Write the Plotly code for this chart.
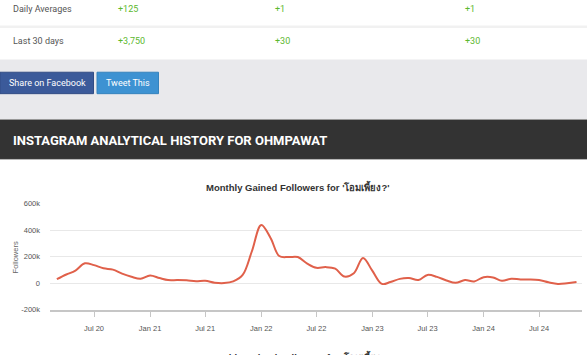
import plotly.graph_objects as go

W, H = 587, 355

# ---- data ----
months = [
    "2020-03-01", "2020-04-01", "2020-05-01", "2020-06-01", "2020-07-01", "2020-08-01",
    "2020-09-01", "2020-10-01", "2020-11-01", "2020-12-01", "2021-01-01", "2021-02-01",
    "2021-03-01", "2021-04-01", "2021-05-01", "2021-06-01", "2021-07-01", "2021-08-01",
    "2021-09-01", "2021-10-01", "2021-11-01", "2021-12-01", "2022-01-01", "2022-02-01",
    "2022-03-01", "2022-04-01", "2022-05-01", "2022-06-01", "2022-07-01", "2022-08-01",
    "2022-09-01", "2022-10-01", "2022-11-01", "2022-12-01", "2023-01-01", "2023-02-01",
    "2023-03-01", "2023-04-01", "2023-05-01", "2023-06-01", "2023-07-01", "2023-08-01",
    "2023-09-01", "2023-10-01", "2023-11-01", "2023-12-01", "2024-01-01", "2024-02-01",
    "2024-03-01", "2024-04-01", "2024-05-01", "2024-06-01", "2024-07-01", "2024-08-01",
    "2024-09-01", "2024-10-01", "2024-11-01",
]
gained = [
    30000, 65000, 95000, 150000, 136000, 112000,
    102000, 72000, 48000, 33000, 57000, 38000,
    23000, 23000, 21000, 15000, 18000, 3000,
    0, 13000, 62000, 239000, 440000, 340000,
    205000, 197000, 197000, 148000, 116000, 121000,
    109000, 50000, 75000, 190000, 92000, -6000,
    8000, 32000, 38000, 24000, 62000, 47000,
    20000, 2000, 23000, 13000, 45000, 43000,
    18000, 33000, 28000, 28000, 23000, 6000,
    -6000, -1000, 8000,
]
y_ticks = [-200000, 0, 200000, 400000, 600000]
y_tick_labels = ["-200k", "0", "200k", "400k", "600k"]

table_rows = ["Daily Averages", "Last 30 days"]
table_col1 = ["+125", "+3,750"]
table_col2 = ["+1", "+30"]
table_col3 = ["+1", "+30"]

chart_title = "Monthly Gained Followers for '\u0e42\u0e2d\u0e21\u0e40\u0e1e\u0e35\u0e49\u0e22\u0e07?'"
section_title = "INSTAGRAM ANALYTICAL HISTORY FOR OHMPAWAT"


def xp(x):
    return x / W


def yp(y):
    return 1 - y / H


fig = go.Figure()
fig.add_trace(go.Scatter(
    x=months, y=gained, mode="lines",
    line=dict(color="#e0604a", width=2, shape="spline", smoothing=1.0),
    hoverinfo="skip", showlegend=False,
))

shapes = []
annotations = []


def note(text, x, y, size, color, family="Roboto", xanchor="left", yanchor="middle", **kw):
    annotations.append(dict(text=text, x=xp(x), y=yp(y), xref="paper", yref="paper",
                            xanchor=xanchor, yanchor=yanchor, showarrow=False,
                            font=dict(family=family, size=size, color=color), **kw))


# table row separator
shapes.append(dict(type="rect", xref="paper", yref="paper", x0=0, x1=1, y0=yp(24.5), y1=yp(22),
                   fillcolor="#f1f1f1", line=dict(width=0), layer="below"))
# gray band
shapes.append(dict(type="rect", xref="paper", yref="paper", x0=0, x1=1, y0=yp(118), y1=yp(57),
                   fillcolor="#e9e9ec", line=dict(width=0), layer="below"))
# header bar
shapes.append(dict(type="rect", xref="paper", yref="paper", x0=0, x1=1, y0=yp(160), y1=yp(118),
                   fillcolor="#333333", line=dict(width=0), layer="below"))
shapes.append(dict(type="line", xref="paper", yref="paper", x0=0, x1=1, y0=yp(118.5), y1=yp(118.5),
                   line=dict(color="#9a9a9a", width=1)))
shapes.append(dict(type="line", xref="paper", yref="paper", x0=0, x1=1, y0=yp(159.5), y1=yp(159.5),
                   line=dict(color="#bdbdbd", width=1)))
# buttons
shapes.append(dict(type="rect", xref="paper", yref="paper", x0=xp(0), x1=xp(93.5), y0=yp(92), y1=yp(70),
                   fillcolor="#3b5a9a", line=dict(color="#324d85", width=1), layer="below"))
shapes.append(dict(type="rect", xref="paper", yref="paper", x0=xp(97), x1=xp(158.5), y0=yp(92), y1=yp(70),
                   fillcolor="#3d92d2", line=dict(color="#3583bd", width=1), layer="below"))

note("Share on Facebook", 47, 81, 9, "#ffffff", xanchor="center")
note("Tweet This", 128, 81, 9, "#ffffff", xanchor="center")

row_y = [5, 38]
for i, lab in enumerate(table_rows):
    note(lab, 11, row_y[i], 9, "#555555")
    for xpos, col in [(116, table_col1), (273, table_col2), (463, table_col3)]:
        note(col[i], xpos, row_y[i], 9, "#5cb82e")

note("<b>" + section_title + "</b>", 11, 140, 13, "#ffffff")

title_font = "Liberation Sans, Noto Sans, DejaVu Sans, sans-serif"
note("<b>" + chart_title + "</b>", 298, 187, 9.5, "#333333", family=title_font, xanchor="center")
# second chart title, cut off at the bottom of the window
note("<b>" + chart_title + "</b>", 298, 353, 9.5, "#333333", family=title_font,
     xanchor="center", yanchor="top")

note("Followers", 15, 260, 7.5, "#666666", family="Liberation Sans, Arial, sans-serif",
     xanchor="center", textangle=-90)

fig.update_layout(
    width=W, height=H,
    margin=dict(l=0, r=0, t=0, b=0),
    paper_bgcolor="#ffffff", plot_bgcolor="#ffffff",
    shapes=shapes, annotations=annotations,
    showlegend=False,
    xaxis=dict(
        domain=[xp(50), xp(582)],
        range=["2020-02-07 12:00", "2024-11-19"],
        type="date",
        tick0="2020-01-01", dtick="M6", tickformat="%b %y",
        showgrid=False, zeroline=False,
        showline=True, linecolor="#c6c6c6", linewidth=1.5,
        ticks="outside", ticklen=6, tickcolor="#c6c6c6", tickwidth=1,
        tickfont=dict(family="Liberation Sans, Arial, sans-serif", size=7.5, color="#555555"),
        ticklabelstandoff=5,
        fixedrange=True,
    ),
    yaxis=dict(
        domain=[yp(313.5), yp(205)],
        range=[-200000, 600000],
        tickvals=y_ticks, ticktext=y_tick_labels,
        showgrid=True, gridcolor="#e8e8e8", gridwidth=1,
        zeroline=False, showline=False, ticks="",
        tickfont=dict(family="Liberation Sans, Arial, sans-serif", size=7.5, color="#555555"),
        ticklabelstandoff=9,
        fixedrange=True,
    ),
)

fig.write_html(
    "out.html",
    config={"displayModeBar": False},
    post_script="document.body.style.margin='0';document.body.style.overflow='hidden';",
)
